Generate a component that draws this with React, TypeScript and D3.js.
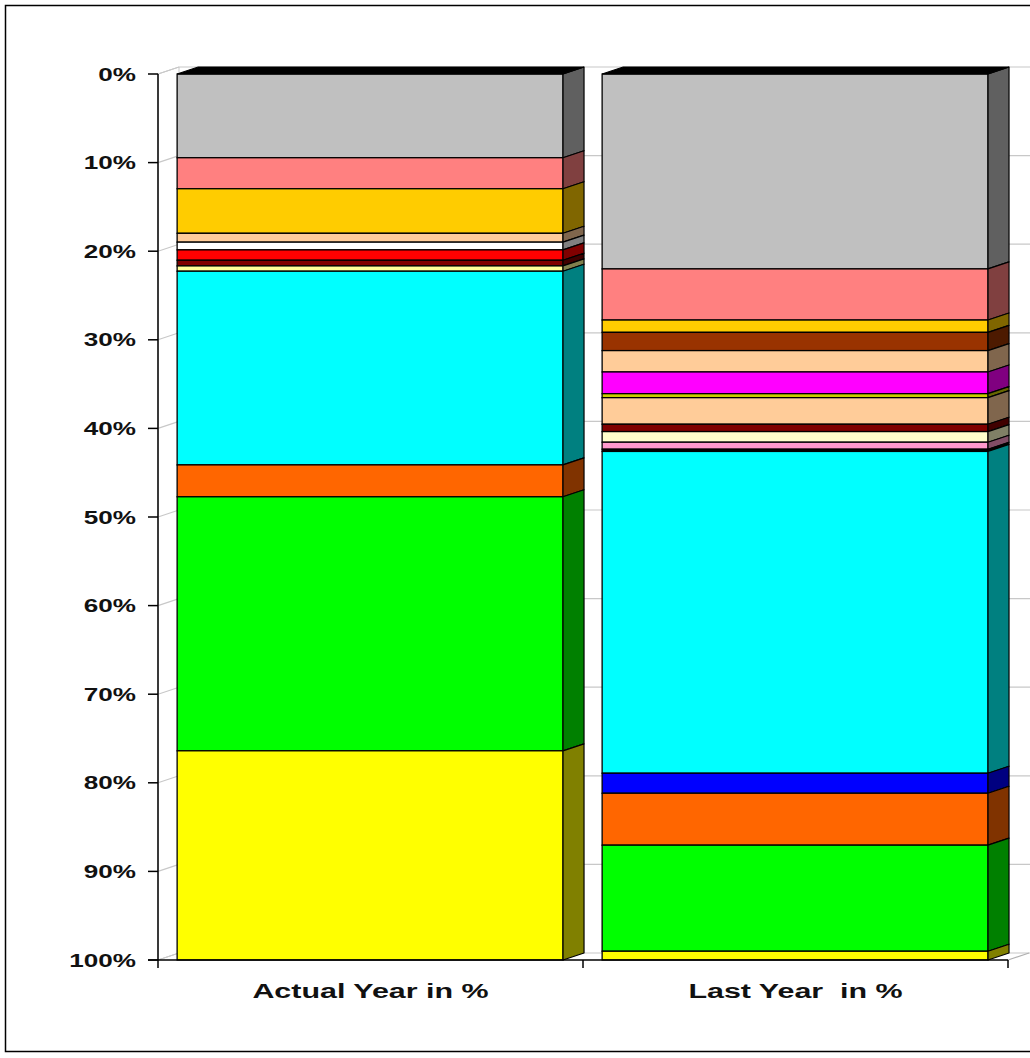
import React from "react";
import * as d3 from "d3";

// Categories along the horizontal axis
const categories = ["Actual Year in %", "Last Year  in %"];

// Percent tick values on the (reversed) vertical axis
const tickValues = [0, 0.1, 0.2, 0.3, 0.4, 0.5, 0.6, 0.7, 0.8, 0.9, 1];

// Stacked shares, top to bottom, for the actual year
const actualValues = [9.45, 3.5, 5.03, 1.0, 0.87, 1.17, 0.64, 0.6, 21.86, 3.6, 28.67, 23.61];
const actualColors = [
  "#C0C0C0", "#FF8080", "#FFCC00", "#FFCC99", "#FFFFFF", "#FF0000",
  "#800000", "#FFFF99", "#00FFFF", "#FF6600", "#00FF00", "#FFFF00",
];

// Stacked shares, top to bottom, for the last year
const lastValues = [22.0, 5.77, 1.39, 2.06, 2.41, 2.45, 0.45, 3.0, 0.83, 1.2, 0.79, 0.25, 36.32, 2.26, 5.86, 11.97, 0.99];
const lastColors = [
  "#C0C0C0", "#FF8080", "#FFCC00", "#993300", "#FFCC99", "#FF00FF",
  "#CCCC00", "#FFCC99", "#800000", "#FFFFCC", "#FF99CC", "#000000",
  "#00FFFF", "#0000FF", "#FF6600", "#00FF00", "#FFFF00",
];

const seriesByCategory = [
  { values: actualValues, colors: actualColors },
  { values: lastValues, colors: lastColors },
];

const W = 1030;
const H = 1058;
const plotTop = 74;
const plotBottom = 960;
const axisX = 158;
const plotRight = 1008;
const depthX = 21;
const depthY = 7;
const FONT = "'Liberation Sans', Arial, sans-serif";
const STRETCH = 1.45;

function shade(c: string) {
  const r = d3.rgb(c);
  return d3.rgb(r.r * 0.5, r.g * 0.5, r.b * 0.5).formatHex();
}

export default function App() {
  const y = d3.scaleLinear().domain([0, 1]).range([plotTop, plotBottom]);
  const x = d3.scaleBand<string>().domain(categories).range([axisX, plotRight]).padding(0);
  const bw = x.bandwidth();
  const inset = bw * 0.045;
  const barW = bw * 0.908;
  const fmt = d3.format(".0%");

  const bars = categories.map((cat, i) => {
    const { values, colors } = seriesByCategory[i];
    const total = d3.sum(values);
    const ends = Array.from(d3.cumsum(values)).map((v) => v / total);
    const segs = values.map((_, j) => ({
      start: j === 0 ? 0 : ends[j - 1],
      end: ends[j],
      color: colors[j],
    }));
    return { cat, x0: (x(cat) as number) + inset, segs };
  });

  return (
    <svg
      width={W}
      height={H}
      viewBox={`0 0 ${W} ${H}`}
      style={{ position: "absolute", left: 0, top: 0, display: "block", background: "#fff" }}
    >
      <rect x={0} y={0} width={W} height={H} fill="#fff" />
      {/* chart frame */}
      <rect x={5.5} y={5.5} width={1040} height={1046} fill="none" stroke="#000" strokeWidth={1.5} />

      {/* back wall gridlines */}
      {tickValues.map((t) => (
        <line
          key={"g" + t}
          x1={axisX + depthX}
          x2={W}
          y1={y(t) - depthY}
          y2={y(t) - depthY}
          stroke="#C8C8C8"
          strokeWidth={1.2}
        />
      ))}
      {/* left side wall */}
      <polygon
        points={`${axisX},${plotTop} ${axisX + depthX},${plotTop - depthY} ${axisX + depthX},${plotBottom - depthY} ${axisX},${plotBottom}`}
        fill="#fff"
        stroke="#C8C8C8"
      />
      {tickValues.map((t) => (
        <line
          key={"w" + t}
          x1={axisX}
          x2={axisX + depthX}
          y1={y(t)}
          y2={y(t) - depthY}
          stroke="#C8C8C8"
          strokeWidth={1.2}
        />
      ))}
      {/* floor edges */}
      <line x1={plotRight} y1={plotBottom} x2={plotRight + depthX} y2={plotBottom - depthY} stroke="#B0B0B0" strokeWidth={1.2} />

      {/* stacked 3D columns */}
      {bars.map((b) => {
        const x1 = b.x0 + barW;
        return (
          <g key={b.cat}>
            {b.segs.map((s, j) => (
              <g key={j}>
                <rect
                  x={b.x0}
                  y={y(s.start)}
                  width={barW}
                  height={y(s.end) - y(s.start)}
                  fill={s.color}
                  stroke="#000"
                  strokeWidth={1.3}
                />
                <polygon
                  points={`${x1},${y(s.start)} ${x1 + depthX},${y(s.start) - depthY} ${x1 + depthX},${y(s.end) - depthY} ${x1},${y(s.end)}`}
                  fill={shade(s.color)}
                  stroke="#000"
                  strokeWidth={1.2}
                  strokeLinejoin="round"
                />
              </g>
            ))}
            <polygon
              points={`${b.x0},${y(0)} ${b.x0 + depthX},${y(0) - depthY} ${x1 + depthX},${y(0) - depthY} ${x1},${y(0)}`}
              fill="#000"
              stroke="#000"
              strokeWidth={1.2}
            />
          </g>
        );
      })}

      {/* value axis */}
      <line x1={axisX} x2={axisX} y1={plotTop} y2={plotBottom} stroke="#000" strokeWidth={1.5} />
      {tickValues.map((t) => (
        <g key={"t" + t}>
          <line x1={axisX - 10} x2={axisX} y1={y(t)} y2={y(t)} stroke="#000" strokeWidth={1.5} />
          <text
            transform={`translate(136, ${y(t) + 6.5}) scale(${STRETCH},1)`}
            textAnchor="end"
            fontFamily={FONT}
            fontWeight="bold"
            fontSize={18}
            fill="#111"
          >
            {fmt(t)}
          </text>
        </g>
      ))}

      {/* category axis */}
      <line x1={axisX - 10} x2={plotRight} y1={plotBottom} y2={plotBottom} stroke="#000" strokeWidth={1.5} />
      {[axisX, ...categories.map((c) => (x(c) as number) + bw)].map((px) => (
        <line key={"c" + px} x1={px} x2={px} y1={plotBottom} y2={plotBottom + 8} stroke="#000" strokeWidth={1.5} />
      ))}
      {categories.map((c) => (
        <text
          key={"l" + c}
          transform={`translate(${(x(c) as number) + bw / 2}, 998) scale(${STRETCH},1)`}
          textAnchor="middle"
          fontFamily={FONT}
          fontWeight="bold"
          fontSize={21}
          fill="#111"
          style={{ whiteSpace: "pre" }}
        >
          {c}
        </text>
      ))}
    </svg>
  );
}
